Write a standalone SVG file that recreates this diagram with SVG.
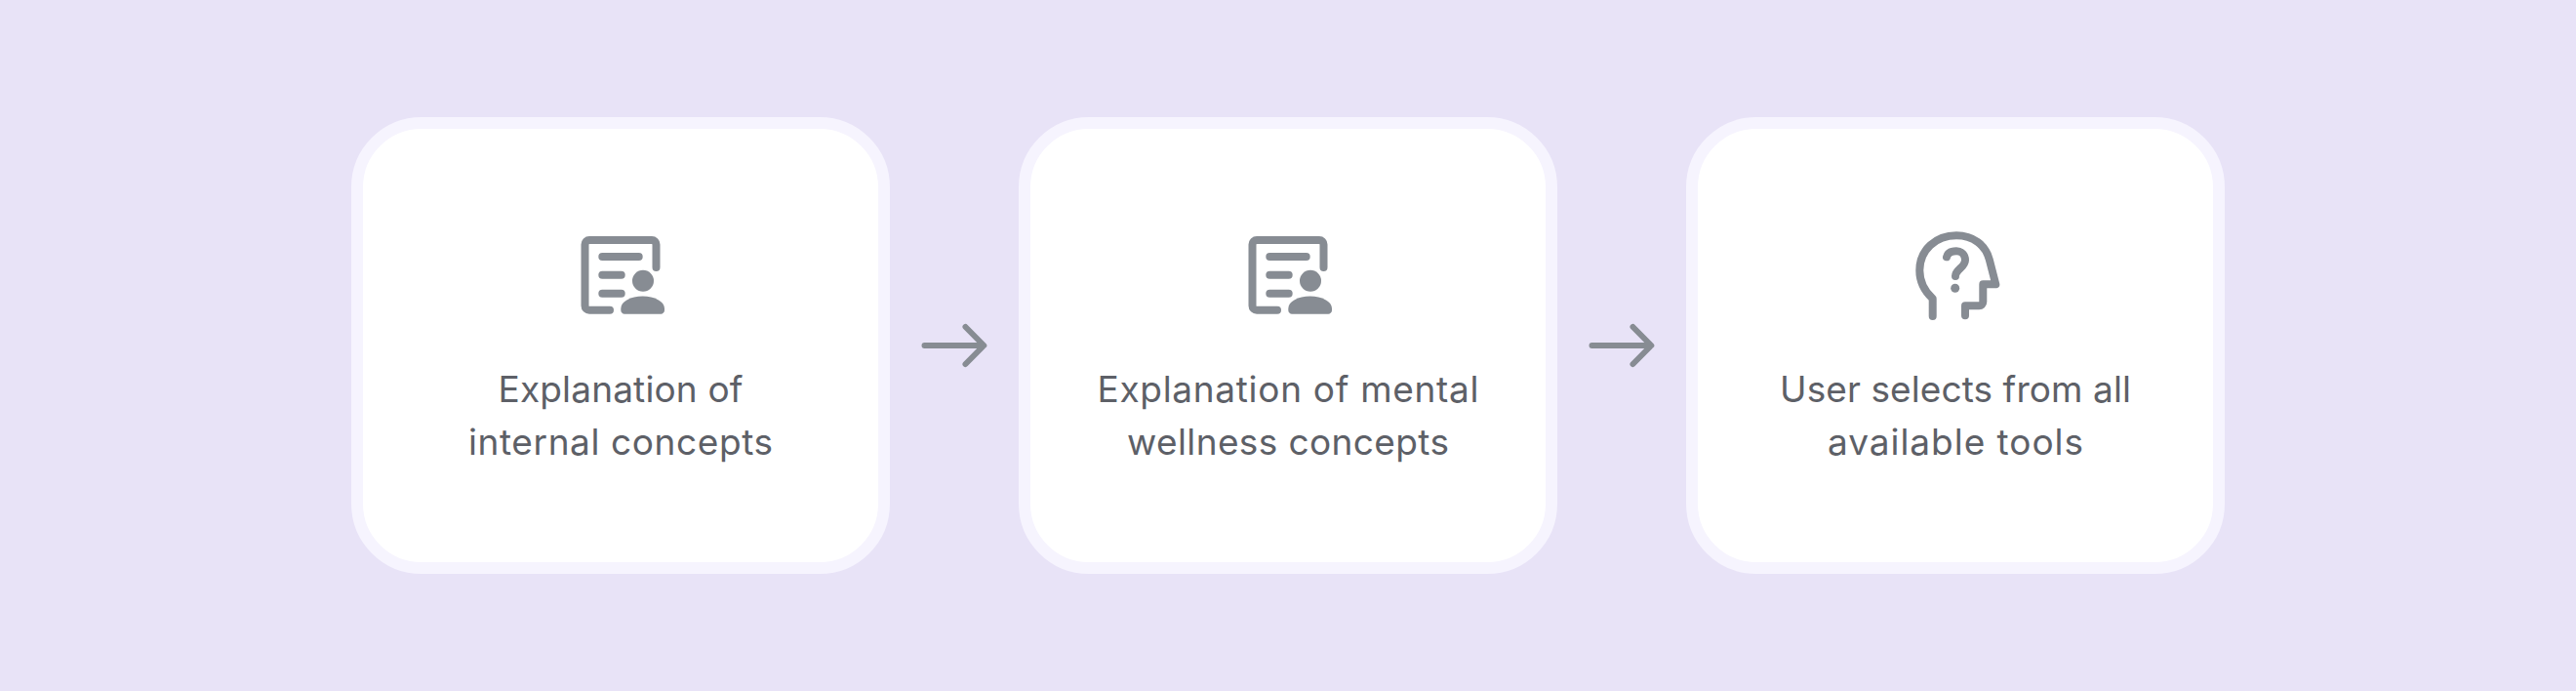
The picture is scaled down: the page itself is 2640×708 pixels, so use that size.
<svg xmlns="http://www.w3.org/2000/svg" width="2640" height="708" viewBox="0 0 2640 708">
<style>
.card{fill:#fff;stroke:#f6f4fe;stroke-width:12}
.ln{fill:none;stroke:#878c93;stroke-linecap:round;stroke-linejoin:round}
.ic{stroke-width:8}
.ar{stroke-width:6}
.fl{fill:#878c93}
text{font-family:"Inter","Noto Sans","Liberation Sans",sans-serif;font-size:37px;font-weight:400;fill:#5d6067;text-anchor:middle}
</style>
<defs>
<g id="docIcon">
<path class="ln ic" d="M625 317.700H604a4.500 4.500 0 0 1-4.500-4.500V250.500a4.500 4.500 0 0 1 4.500-4.500H668a4.500 4.500 0 0 1 4.500 4.500V274"/>
<path class="ln ic" d="M617.300 263H654.700M617.300 281.700H636.700M617.300 300.700H636.700"/>
<circle class="fl" cx="659" cy="287.700" r="11"/>
<path class="fl" d="M636.300 316c0-7 10-12.500 22.300-12.500S681 309 681 316v2c0 2-1.800 3.700-3.700 3.700H640c-2 0-3.700-1.700-3.700-3.700z"/>
</g>
</defs>
<rect id="background" width="2640" height="708" fill="#e8e3f7"/>
<g id="node-1">
<rect class="card" x="366" y="126" width="540" height="456" rx="66"/>
<use href="#docIcon"/>
<text x="636" y="411.500" textLength="251">Explanation of</text>
<text x="636" y="465.500" textLength="312">internal concepts</text>
</g>
<g id="node-2">
<rect class="card" x="1050" y="126" width="540" height="456" rx="66"/>
<use href="#docIcon" x="684"/>
<text x="1320" y="411.500" textLength="391">Explanation of mental</text>
<text x="1320" y="465.500" textLength="330">wellness concepts</text>
</g>
<g id="node-3">
<rect class="card" x="1734" y="126" width="540" height="456" rx="66"/>
<path class="ln ic" d="M1980.700 324V306C1972 298 1967.300 288 1967.300 277C1967.300 256 1984 241.300 2005 241.300C2022 241.300 2035 251 2038.800 266L2045.300 291.300H2032.300V309.300a4 4 0 0 1-4 4H2014V323.300"/>
<path class="ln ic" d="M1995 263.300C1996 259 2000 257.300 2005 257.300C2010 257.300 2014 261 2014 266.500C2014 274 2004 276 2004 283"/>
<circle class="fl" cx="2003.700" cy="295.300" r="4.500"/>
<text x="2004" y="411.500" textLength="360">User selects from all</text>
<text x="2004" y="465.500" textLength="262">available tools</text>
</g>
<g id="connectors">
<path class="ln ar" d="M947.500 354H1008M989.500 335L1008.300 354L989.500 373"/>
<path class="ln ar" d="M1631.500 354H1692M1673.500 335L1692.300 354L1673.500 373"/>
</g>
</svg>
